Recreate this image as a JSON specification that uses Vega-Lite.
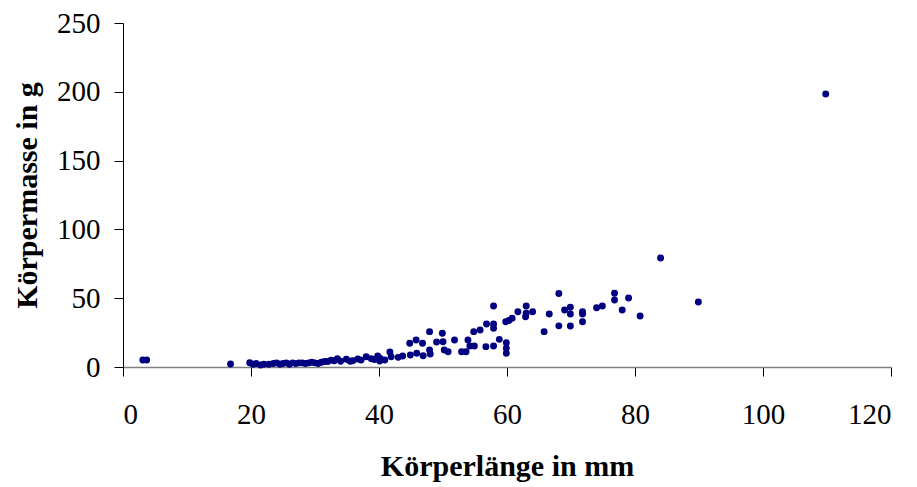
{
  "$schema": "https://vega.github.io/schema/vega-lite/v6.json",
  "width": 768,
  "height": 344,
  "autosize": "none",
  "padding": {"left": 123, "top": 23, "right": 26, "bottom": 120},
  "background": "white",
  "config": {"view": {"stroke": null}},
  "data": {"values": [
    {"len": 3.1, "mass": 5.1}, {"len": 3.7, "mass": 5.1},
    {"len": 16.8, "mass": 2.2},
    {"len": 19.8, "mass": 3.1}, {"len": 20.3, "mass": 2.0}, {"len": 20.8, "mass": 2.5}, {"len": 21.5, "mass": 1.5},
    {"len": 22.0, "mass": 2.0}, {"len": 22.8, "mass": 2.0}, {"len": 23.5, "mass": 2.5}, {"len": 24.0, "mass": 3.0},
    {"len": 24.5, "mass": 2.0}, {"len": 25.0, "mass": 2.5}, {"len": 25.5, "mass": 3.0}, {"len": 26.0, "mass": 2.0},
    {"len": 26.5, "mass": 3.0}, {"len": 27.0, "mass": 2.5}, {"len": 27.5, "mass": 3.0}, {"len": 28.0, "mass": 3.0},
    {"len": 28.5, "mass": 2.5}, {"len": 29.0, "mass": 3.0}, {"len": 29.5, "mass": 3.5}, {"len": 30.0, "mass": 3.0},
    {"len": 30.5, "mass": 2.5}, {"len": 31.0, "mass": 3.5}, {"len": 31.5, "mass": 4.0}, {"len": 32.0, "mass": 4.0},
    {"len": 32.5, "mass": 5.0}, {"len": 33.0, "mass": 4.5}, {"len": 33.5, "mass": 6.0}, {"len": 34.0, "mass": 4.2},
    {"len": 34.9, "mass": 5.6}, {"len": 35.5, "mass": 4.2}, {"len": 35.9, "mass": 4.6}, {"len": 36.7, "mass": 5.8},
    {"len": 37.2, "mass": 5.0}, {"len": 38.0, "mass": 7.5}, {"len": 38.8, "mass": 6.0}, {"len": 39.3, "mass": 5.5},
    {"len": 39.8, "mass": 8.0}, {"len": 40.1, "mass": 4.4}, {"len": 40.2, "mass": 6.2}, {"len": 40.9, "mass": 5.1},
    {"len": 41.7, "mass": 10.9}, {"len": 41.9, "mass": 7.5}, {"len": 43.0, "mass": 7.0}, {"len": 43.7, "mass": 8.0},
    {"len": 44.8, "mass": 17.2}, {"len": 44.9, "mass": 8.7}, {"len": 45.8, "mass": 19.6}, {"len": 45.9, "mass": 10.0},
    {"len": 46.8, "mass": 17.2}, {"len": 46.9, "mass": 8.2}, {"len": 47.9, "mass": 25.7}, {"len": 47.9, "mass": 12.4},
    {"len": 48.0, "mass": 9.4}, {"len": 49.0, "mass": 18.2}, {"len": 49.9, "mass": 24.5}, {"len": 50.0, "mass": 18.4},
    {"len": 50.2, "mass": 12.4}, {"len": 50.8, "mass": 11.1}, {"len": 51.8, "mass": 19.6}, {"len": 52.9, "mass": 11.1},
    {"len": 53.6, "mass": 11.1}, {"len": 53.9, "mass": 19.6}, {"len": 54.2, "mass": 15.3}, {"len": 54.8, "mass": 25.7},
    {"len": 54.9, "mass": 15.3}, {"len": 55.8, "mass": 26.9}, {"len": 56.7, "mass": 14.8}, {"len": 56.8, "mass": 31.3},
    {"len": 57.9, "mass": 44.3}, {"len": 57.9, "mass": 31.3}, {"len": 57.9, "mass": 28.1}, {"len": 57.9, "mass": 15.3},
    {"len": 58.8, "mass": 20.1}, {"len": 59.8, "mass": 32.9}, {"len": 59.9, "mass": 17.7}, {"len": 59.9, "mass": 13.6},
    {"len": 59.9, "mass": 10.0}, {"len": 60.3, "mass": 33.8}, {"len": 60.8, "mass": 35.4}, {"len": 61.7, "mass": 40.2},
    {"len": 63.0, "mass": 44.3}, {"len": 63.0, "mass": 39.0}, {"len": 62.9, "mass": 36.5}, {"len": 64.0, "mass": 40.2},
    {"len": 65.8, "mass": 25.7}, {"len": 66.6, "mass": 38.5}, {"len": 68.1, "mass": 53.4}, {"len": 68.1, "mass": 29.9},
    {"len": 69.0, "mass": 41.4}, {"len": 69.9, "mass": 43.4}, {"len": 69.9, "mass": 38.5}, {"len": 69.9, "mass": 29.8},
    {"len": 71.8, "mass": 40.2}, {"len": 71.8, "mass": 38.5}, {"len": 71.8, "mass": 32.9}, {"len": 74.0, "mass": 43.1},
    {"len": 74.9, "mass": 44.3}, {"len": 76.8, "mass": 53.6}, {"len": 76.8, "mass": 48.7}, {"len": 78.0, "mass": 41.4},
    {"len": 79.0, "mass": 50.1}, {"len": 80.8, "mass": 37.1}, {"len": 84.0, "mass": 79.2}, {"len": 89.9, "mass": 47.2},
    {"len": 109.8, "mass": 198.4}
  ]},
  "mark": {"type": "point", "filled": true, "shape": "circle", "size": 48, "color": "#000080", "opacity": 1},
  "encoding": {
    "x": {
      "field": "len", "type": "quantitative",
      "scale": {"domain": [0, 120], "nice": false, "zero": true},
      "axis": {
        "title": "Körperlänge in mm",
        "values": [0, 20, 40, 60, 80, 100, 120],
        "grid": false,
        "domainColor": "#808080", "domainWidth": 1.5,
        "tickColor": "#000000", "tickSize": 9,
        "labelFont": "Liberation Serif", "labelFontSize": 29, "labelColor": "#000000", "labelPadding": 24,
        "titleFont": "Liberation Serif", "titleFontSize": 30, "titleFontWeight": "bold", "titleColor": "#000000", "titlePadding": 22
      }
    },
    "y": {
      "field": "mass", "type": "quantitative",
      "scale": {"domain": [0, 250], "nice": false},
      "axis": {
        "title": "Körpermasse in g",
        "values": [0, 50, 100, 150, 200, 250],
        "grid": false,
        "domainColor": "#000000", "domainWidth": 1,
        "tickColor": "#000000", "tickSize": 9,
        "labelFont": "Liberation Serif", "labelFontSize": 29, "labelColor": "#000000", "labelPadding": 14,
        "titleFont": "Liberation Serif", "titleFontSize": 30, "titleFontWeight": "bold", "titleColor": "#000000", "titlePadding": 14
      }
    }
  }
}
